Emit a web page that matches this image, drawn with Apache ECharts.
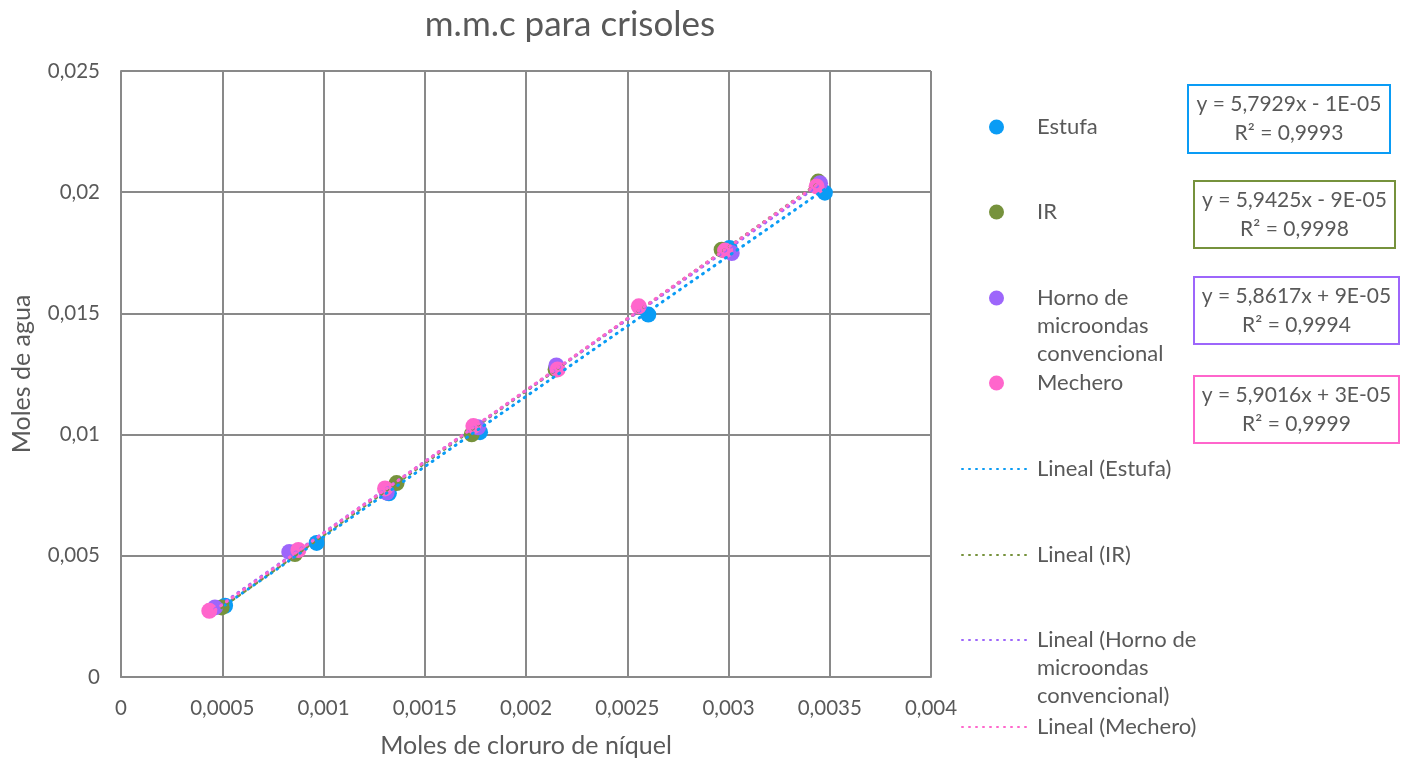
<!DOCTYPE html>
<html>
<head>
<meta charset="utf-8">
<script src="https://cdn.jsdelivr.net/npm/echarts@6/dist/echarts.min.js"></script>
<style>
  html, body { margin: 0; padding: 0; background: #fff; }
  #chart { width: 1407px; height: 763px; }
</style>
</head>
<body>
<div id="chart"></div>
<script>
// Moles of nickel chloride (x) vs moles of water (y) for each heating method
const seriesNames = ['Estufa', 'IR', 'Horno de microondas convencional', 'Mechero'];
const seriesColors = ['#0a9cf5', '#76923c', '#9d66fb', '#ff66cc'];

const estufaX = [0.000514, 0.000966, 0.001323, 0.001773, 0.002604, 0.003005, 0.003476];
const estufaY = [0.00294, 0.00553, 0.00758, 0.01010, 0.01495, 0.01770, 0.01998];

const irX = [0.000497, 0.000859, 0.001361, 0.001732, 0.002146, 0.002966, 0.003443];
const irY = [0.00287, 0.00507, 0.00800, 0.01001, 0.01269, 0.01763, 0.02044];

const hornoX = [0.000464, 0.000831, 0.001312, 0.001763, 0.002150, 0.003016, 0.003452];
const hornoY = [0.00287, 0.00516, 0.00761, 0.01030, 0.01285, 0.01749, 0.02037];

const mecheroX = [0.000436, 0.000876, 0.001304, 0.001740, 0.002156, 0.002557, 0.002983, 0.003435];
const mecheroY = [0.00273, 0.00524, 0.00778, 0.01035, 0.01269, 0.01529, 0.01759, 0.02024];

// Linear trendline coefficients (slope, intercept) and R²
const slopes = [5.7929, 5.9425, 5.8617, 5.9016];
const intercepts = [-1e-5, -9e-5, 9e-5, 3e-5];
const r2 = [0.9993, 0.9998, 0.9994, 0.9999];

// Axis tick labels
const xTicks = ['0', '0,0005', '0,001', '0,0015', '0,002', '0,0025', '0,003', '0,0035', '0,004'];
const yTicks = ['0', '0,005', '0,01', '0,015', '0,02', '0,025'];

const xs = [estufaX, irX, hornoX, mecheroX];
const ys = [estufaY, irY, hornoY, mecheroY];

const FONT = 'Lato';
const GREY = '#595959';
const GRID_GREY = '#898989';

function comma(v) { return String(v).replace('.', ','); }
function sci(v) {
  const a = Math.abs(v);
  const e = Math.floor(Math.log10(a));
  const m = Math.round(a / Math.pow(10, e));
  const es = (e < 0 ? '-' : '+') + String(Math.abs(e)).padStart(2, '0');
  return m + 'E' + es;
}
function equation(i) {
  const b = intercepts[i];
  return 'y = ' + comma(slopes[i]) + 'x ' + (b < 0 ? '- ' : '+ ') + sci(b);
}

const scatterSeries = seriesNames.map((n, i) => ({
  name: n,
  type: 'scatter',
  symbol: 'circle',
  symbolSize: 16,
  itemStyle: { color: seriesColors[i], opacity: 1 },
  z: 3,
  data: xs[i].map((x, k) => [x, ys[i][k]])
}));

const trendSeries = seriesNames.map((n, i) => {
  const x0 = Math.min.apply(null, xs[i]);
  const x1 = Math.max.apply(null, xs[i]);
  return {
    name: 'Lineal (' + n + ')',
    type: 'line',
    symbol: 'none',
    showSymbol: false,
    z: 4,
    lineStyle: { color: seriesColors[i], width: 3, type: [1, 6], cap: 'round' },
    itemStyle: { color: seriesColors[i] },
    data: [[x0, slopes[i] * x0 + intercepts[i]], [x1, slopes[i] * x1 + intercepts[i]]]
  };
});

// Legend labels, with blank leading lines so the marker sits beside the first line
const legendText = {
  'Horno de microondas convencional': '\n\nHorno de\nmicroondas\nconvencional',
  'Lineal (Horno de microondas convencional)': '\n\nLineal (Horno de\nmicroondas\nconvencional)'
};
const legendNames = seriesNames.concat(trendSeries.map(s => s.name));
const legendCenters = [127, 212, 298, 383, 469, 555, 640, 727];

const legends = legendNames.map((n, i) => {
  const multi = !!legendText[n];
  const half = multi ? 70 : 14;
  const isLine = i >= seriesNames.length;
  return {
    show: true,
    data: [n],
    left: isLine ? 961 : 989,
    top: legendCenters[i] - half,
    padding: 0,
    itemWidth: isLine ? 70 : 15,
    itemHeight: isLine ? 14 : 15,
    itemGap: 0,
    selectedMode: false,
    itemStyle: isLine ? { opacity: 0 } : {},
    formatter: name => legendText[name] || name,
    textStyle: {
      fontFamily: FONT, fontSize: 22, color: GREY, lineHeight: 28,
      padding: isLine ? 0 : [0, 0, 0, 28]
    }
  };
});

// Trendline equation boxes
const boxes = [
  { x: 1188, y: 85, w: 202, h: 68 },
  { x: 1194, y: 181, w: 201, h: 67 },
  { x: 1194, y: 277, w: 205, h: 67 },
  { x: 1194, y: 376, w: 205, h: 67 }
];
const graphics = [];
boxes.forEach((b, i) => {
  graphics.push({
    type: 'rect',
    shape: { x: b.x, y: b.y, width: b.w, height: b.h },
    style: { fill: '#fff', stroke: seriesColors[i], lineWidth: 2 },
    z: 10
  });
  graphics.push({
    type: 'text',
    x: b.x + b.w / 2,
    y: b.y + b.h / 2,
    style: {
      text: equation(i) + '\nR² = ' + comma(r2[i]),
      fontFamily: FONT, fontSize: 21, fill: GREY,
      lineHeight: 29, align: 'center', verticalAlign: 'middle'
    },
    z: 11
  });
});

const chart = echarts.init(document.getElementById('chart'), null, { renderer: 'canvas' });
chart.setOption({
  backgroundColor: '#fff',
  animation: false,
  title: {
    text: 'm.m.c para crisoles',
    left: 565, top: 2, textAlign: 'center',
    textStyle: { fontFamily: FONT, fontSize: 35, fontWeight: 'normal', color: GREY }
  },
  grid: { left: 121, right: 476, top: 71, bottom: 85, containLabel: false },
  xAxis: {
    type: 'value', min: 0, max: 0.004, interval: 0.0005,
    name: 'Moles de cloruro de níquel', nameLocation: 'middle', nameGap: 56,
    nameTextStyle: { fontFamily: FONT, fontSize: 25, color: GREY },
    axisLine: { show: true, lineStyle: { color: GRID_GREY, width: 2 } },
    axisTick: { show: false },
    axisLabel: {
      margin: 21, fontFamily: FONT, fontSize: 20.5, color: GREY,
      formatter: (v) => xTicks[Math.round(v / 0.0005)]
    },
    splitLine: { show: true, lineStyle: { color: GRID_GREY, width: 2 } }
  },
  yAxis: {
    type: 'value', min: 0, max: 0.025, interval: 0.005,
    name: 'Moles de agua', nameLocation: 'middle', nameGap: 87, nameRotate: 90,
    nameTextStyle: { fontFamily: FONT, fontSize: 25, color: GREY },
    axisLine: { show: true, lineStyle: { color: GRID_GREY, width: 2 } },
    axisTick: { show: false },
    axisLabel: {
      margin: 21, fontFamily: FONT, fontSize: 20.5, color: GREY,
      formatter: (v) => yTicks[Math.round(v / 0.005)]
    },
    splitLine: { show: true, lineStyle: { color: GRID_GREY, width: 2 } }
  },
  legend: legends,
  graphic: graphics,
  series: scatterSeries.concat(trendSeries)
});
</script>
</body>
</html>
